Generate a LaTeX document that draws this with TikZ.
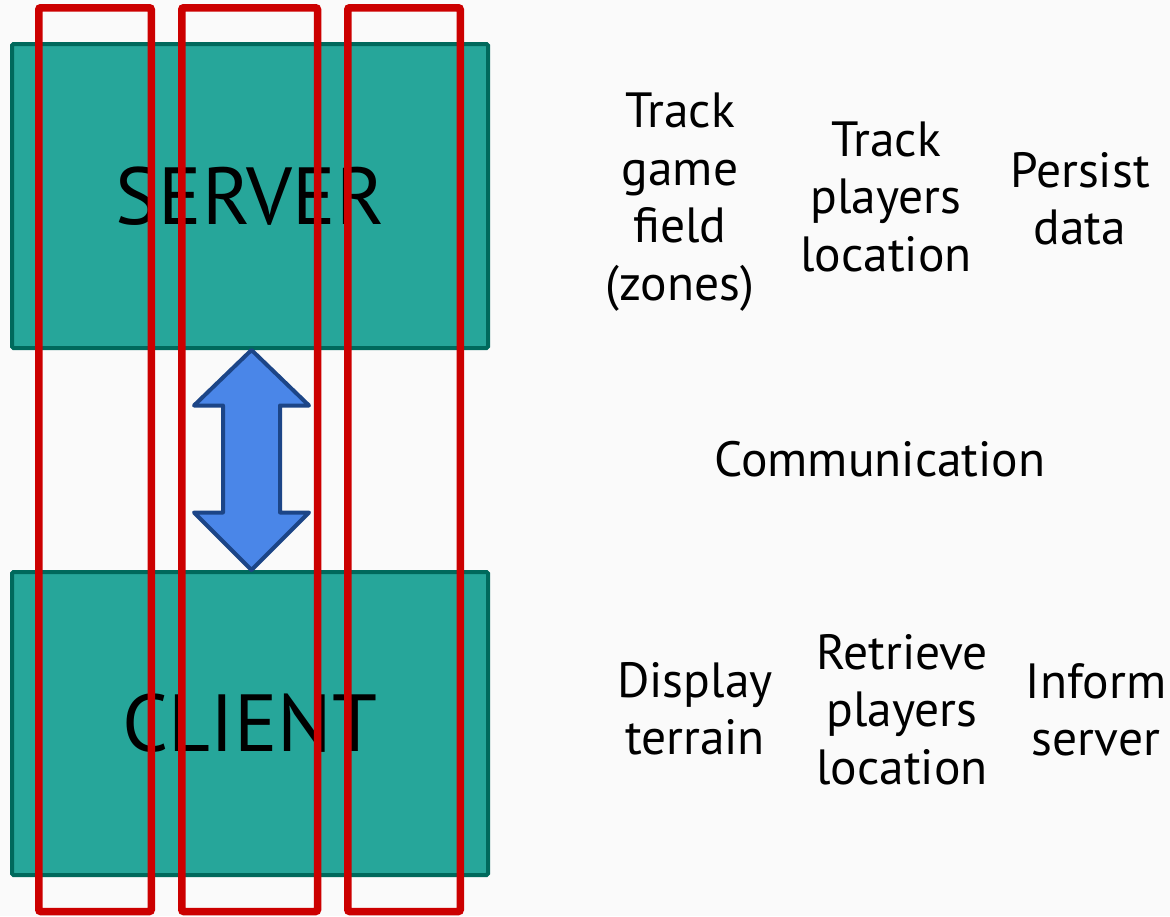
\documentclass[tikz,border=0pt]{standalone}
\usepackage{fontspec}
\setmainfont{PT Sans}
\usetikzlibrary{calc}
\definecolor{bg}{HTML}{FAFAFA}
\definecolor{tealfill}{HTML}{26A69A}
\definecolor{tealline}{HTML}{00695C}
\definecolor{redline}{HTML}{CC0000}
\definecolor{arrowfill}{HTML}{4A86E8}
\definecolor{arrowline}{HTML}{1C4587}
\tikzset{
  tierbox/.style={draw=tealline, fill=tealfill, line width=4pt, rounded corners=1.5pt,
    inner sep=0pt, font=\fontsize{81}{90}\selectfont},
  label/.style={align=center, inner sep=0pt, anchor=base,
    font=\fontsize{49.5}{57.5}\selectfont},
  column/.style={draw=redline, line width=7.5pt, rounded corners=2pt},
  bigarrow/.style={draw=arrowline, fill=arrowfill, line width=4pt, line join=round}
}
\begin{document}
\begin{tikzpicture}[x=1pt,y=-1pt]
\fill[bg] (0,0) rectangle (1170,916);
\useasboundingbox (0,0) rectangle (1170,916);

\node[tierbox, minimum width=476pt, minimum height=304pt] (server) at (250,196) {SERVER};
\node[tierbox, minimum width=476pt, minimum height=303pt] (client) at (250,723.5) {CLIENT};

% double block arrow between server and client
\coordinate (top) at ($(server.south)+(1.5,0)$);
\coordinate (bot) at ($(client.north)+(1.5,0)$);
\draw[bigarrow] (top) -- ($(top)+(57.5,55.5)$) -- ($(top)+(28.5,55.5)$)
  -- ($(bot)+(28.5,-57.5)$) -- ($(bot)+(57.5,-57.5)$) -- (bot)
  -- ($(bot)+(-57.5,-57.5)$) -- ($(bot)+(-28.5,-57.5)$)
  -- ($(top)+(-28.5,55.5)$) -- ($(top)+(-57.5,55.5)$) -- cycle;

% anchor=base sits on the last line's baseline
\node[label] (t1) at (680,300.2) {Track\\game\\field\\(zones)};
\node[label] (t2) at (886,271) {Track\\players\\location};
\node[label] (t3) at (1080,244.5) {Persist\\data};
\node[label] (comm) at (880,476.7) {Communication};
\node[label] (c1) at (695,754.5) {Display\\terrain};
\node[label] (c2) at (902,784) {Retrieve\\players\\location};
\node[label] (c3) at (1096,755.5) {Inform\\server};

\draw[column] (38.75,7.75) rectangle (151.25,911.5);
\draw[column] (181.75,7.75) rectangle (317.5,911.5);
\draw[column] (347.75,7.75) rectangle (460.25,911.5);
\end{tikzpicture}
\end{document}
